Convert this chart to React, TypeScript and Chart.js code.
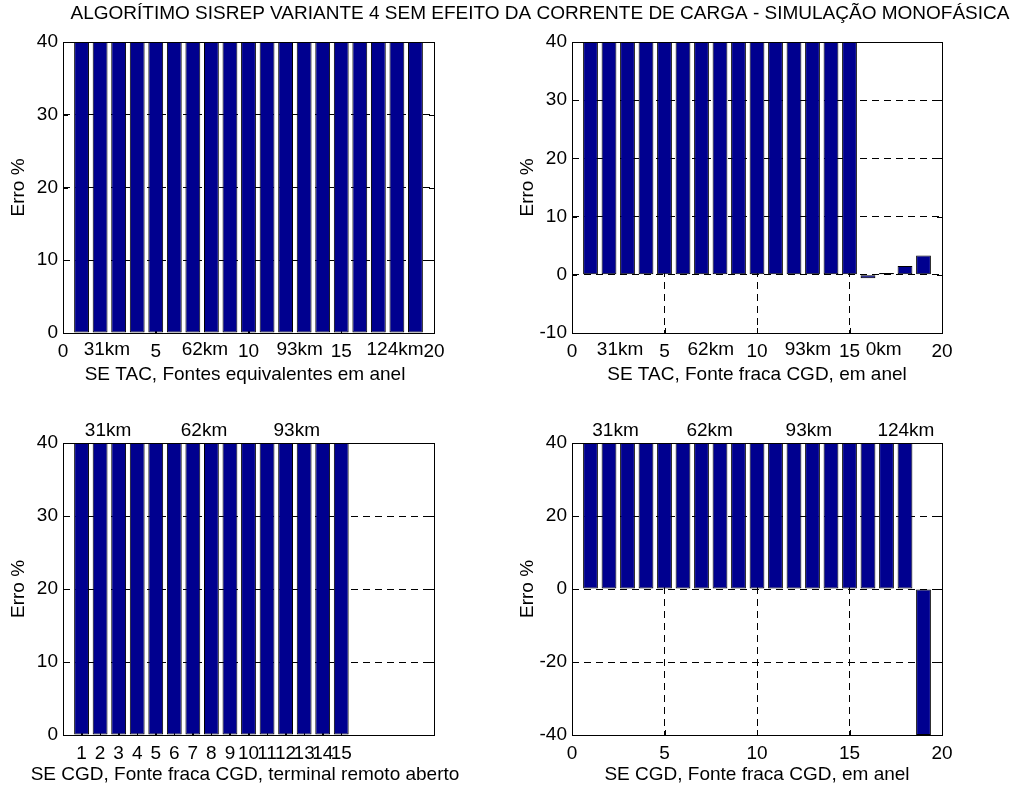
import React, { useEffect, useRef } from 'react';
import { Chart, registerables } from 'chart.js';

Chart.register(...registerables);

const FONT = '"Liberation Sans", Arial, Helvetica, sans-serif';
const FONT_SIZE = 19;
const BAR_FILL = 'rgb(0,0,143)';
const GRID_DASH = [7, 5];

const MAIN_TITLE = 'ALGORÍTIMO SISREP VARIANTE 4 SEM EFEITO DA CORRENTE DE CARGA - SIMULAÇÃO MONOFÁSICA';
const Y_LABEL = 'Erro %';

// Panel 1 (top-left)
const TL_X = [1, 2, 3, 4, 5, 6, 7, 8, 9, 10, 11, 12, 13, 14, 15, 16, 17, 18, 19];
const TL_ERRO = [40, 40, 40, 40, 40, 40, 40, 40, 40, 40, 40, 40, 40, 40, 40, 40, 40, 40, 40];
const TL_XTICKS = [0, 5, 10, 15, 20];
const TL_YTICKS = [0, 10, 20, 30, 40];
const TL_KM_X = [2.37, 7.65, 12.76, 17.9];
const TL_KM_LABELS = ['31km', '62km', '93km', '124km'];
const TL_TITLE = 'SE TAC, Fontes equivalentes em anel';

// Panel 2 (top-right)
const TR_X = [1, 2, 3, 4, 5, 6, 7, 8, 9, 10, 11, 12, 13, 14, 15, 16, 17, 18, 19];
const TR_ERRO = [40, 40, 40, 40, 40, 40, 40, 40, 40, 40, 40, 40, 40, 40, 40, -0.6, 0.3, 1.5, 3.3];
const TR_XTICKS = [0, 5, 10, 15, 20];
const TR_YTICKS = [-10, 0, 10, 20, 30, 40];
const TR_KM_X = [2.6, 7.5, 12.75, 16.85];
const TR_KM_LABELS = ['31km', '62km', '93km', '0km'];
const TR_TITLE = 'SE TAC, Fonte fraca CGD, em anel';

// Panel 3 (bottom-left)
const BL_X = [1, 2, 3, 4, 5, 6, 7, 8, 9, 10, 11, 12, 13, 14, 15];
const BL_ERRO = [40, 40, 40, 40, 40, 40, 40, 40, 40, 40, 40, 40, 40, 40, 40];
const BL_XTICKS = [1, 2, 3, 4, 5, 6, 7, 8, 9, 10, 11, 12, 13, 14, 15];
const BL_YTICKS = [0, 10, 20, 30, 40];
const BL_KM_X = [2.43, 7.6, 12.6];
const BL_KM_LABELS = ['31km', '62km', '93km'];
const BL_TITLE = 'SE CGD, Fonte fraca CGD, terminal remoto aberto';

// Panel 4 (bottom-right)
const BR_X = [1, 2, 3, 4, 5, 6, 7, 8, 9, 10, 11, 12, 13, 14, 15, 16, 17, 18, 19];
const BR_ERRO = [40, 40, 40, 40, 40, 40, 40, 40, 40, 40, 40, 40, 40, 40, 40, 40, 40, 40, -40];
const BR_XTICKS = [0, 5, 10, 15, 20];
const BR_YTICKS = [-40, -20, 0, 20, 40];
const BR_KM_X = [2.35, 7.44, 12.8, 18.05];
const BR_KM_LABELS = ['31km', '62km', '93km', '124km'];
const BR_TITLE = 'SE CGD, Fonte fraca CGD, em anel';

const W = 1018;
const H = 787;
const Y_AXIS_W = 63;
const TICK_LEN = 5;

type Area = { left: number; top: number; right: number; bottom: number };
type Panel = {
  xs: number[];
  values: number[];
  xTicks: number[];
  yTicks: number[];
  kmX: number[];
  kmLabels: string[];
  kmBelow: boolean;
  xTitle: string;
  area: Area;
  boxBottom: number;
  titleX: number;
  titleCenter: number;
  suptitle: boolean;
};

const PANELS: Panel[] = [
  { xs: TL_X, values: TL_ERRO, xTicks: TL_XTICKS, yTicks: TL_YTICKS, kmX: TL_KM_X, kmLabels: TL_KM_LABELS, kmBelow: true, xTitle: TL_TITLE,
    area: { left: 63, top: 42, right: 434, bottom: 333 }, boxBottom: 393, titleX: 245, titleCenter: 375, suptitle: true },
  { xs: TR_X, values: TR_ERRO, xTicks: TR_XTICKS, yTicks: TR_YTICKS, kmX: TR_KM_X, kmLabels: TR_KM_LABELS, kmBelow: true, xTitle: TR_TITLE,
    area: { left: 572, top: 42, right: 942, bottom: 333 }, boxBottom: 393, titleX: 757, titleCenter: 375, suptitle: false },
  { xs: BL_X, values: BL_ERRO, xTicks: BL_XTICKS, yTicks: BL_YTICKS, kmX: BL_KM_X, kmLabels: BL_KM_LABELS, kmBelow: false, xTitle: BL_TITLE,
    area: { left: 63, top: 443, right: 434, bottom: 735 }, boxBottom: 787, titleX: 245, titleCenter: 775, suptitle: false },
  { xs: BR_X, values: BR_ERRO, xTicks: BR_XTICKS, yTicks: BR_YTICKS, kmX: BR_KM_X, kmLabels: BR_KM_LABELS, kmBelow: false, xTitle: BR_TITLE,
    area: { left: 572, top: 443, right: 942, bottom: 735 }, boxBottom: 787, titleX: 757, titleCenter: 775, suptitle: false },
];

const framePlugin = {
  id: 'matlabFrame',
  beforeDatasetsDraw(chart: any) {
    const { ctx, chartArea: a, scales } = chart;
    const xs = scales.x;
    const ys = scales.y;
    ctx.save();
    ctx.strokeStyle = '#000';
    ctx.lineWidth = 1;
    ctx.beginPath();
    ys.ticks.forEach((t: any) => {
      const py = Math.round(ys.getPixelForValue(t.value)) + 0.5;
      ctx.moveTo(a.left, py);
      ctx.lineTo(a.left + TICK_LEN, py);
      ctx.moveTo(a.right - TICK_LEN, py);
      ctx.lineTo(a.right, py);
    });
    xs.ticks.forEach((t: any) => {
      const px = Math.round(xs.getPixelForValue(t.value)) + 0.5;
      ctx.moveTo(px, a.bottom);
      ctx.lineTo(px, a.bottom - TICK_LEN);
      ctx.moveTo(px, a.top);
      ctx.lineTo(px, a.top + TICK_LEN);
    });
    ctx.stroke();
    ctx.restore();
  },
  afterDatasetsDraw(chart: any) {
    const { ctx, chartArea: a } = chart;
    ctx.save();
    ctx.strokeStyle = '#000';
    ctx.lineWidth = 1;
    const l = Math.round(a.left) + 0.5;
    const t = Math.round(a.top) + 0.5;
    const r = Math.round(a.right) + 0.5;
    const b = Math.round(a.bottom) + 0.5;
    ctx.strokeRect(l, t, r - l, b - t);
    ctx.restore();
  },
};

function makeTextPlugin(p: Panel) {
  return {
    id: 'panelTexts',
    afterDraw(chart: any) {
      const { ctx, chartArea: a, scales } = chart;
      ctx.save();
      ctx.font = `${FONT_SIZE}px ${FONT}`;
      ctx.fillStyle = '#000';
      ctx.textAlign = 'center';
      ctx.textBaseline = 'middle';
      p.kmX.forEach((v, i) => {
        const px = scales.x.getPixelForValue(v);
        const py = p.kmBelow ? a.bottom + 16.5 : a.top - 12;
        ctx.fillText(p.kmLabels[i], px, py);
      });
      ctx.fillText(p.xTitle, p.titleX, p.titleCenter);
      if (p.suptitle) {
        ctx.fillText(MAIN_TITLE, 540, 14);
      }
      ctx.restore();
    },
  };
}

function makeChart(canvas: HTMLCanvasElement, p: Panel) {
  const font = { family: FONT, size: FONT_SIZE };
  const lh = FONT_SIZE * 1.2;
  return new Chart(canvas, {
    type: 'bar',
    data: {
      datasets: [
        {
          data: p.xs.map((x, i) => ({ x, y: p.values[i] })),
          backgroundColor: BAR_FILL,
          borderColor: '#000',
          borderWidth: 1,
          borderSkipped: false,
          barPercentage: 0.8,
          categoryPercentage: 1,
        } as any,
      ],
    },
    options: {
      responsive: false,
      animation: false,
      events: [],
      layout: {
        autoPadding: false,
        padding: {
          left: p.area.left - Y_AXIS_W,
          top: p.area.top,
          right: W - p.area.right,
          bottom: H - p.boxBottom,
        },
      },
      plugins: {
        legend: { display: false },
        tooltip: { enabled: false },
        title: { display: false },
      },
      scales: {
        x: {
          type: 'linear',
          min: 0,
          max: 20,
          offset: false,
          grid: { color: '#000', lineWidth: 1, drawTicks: false, offset: false },
          border: { display: false, dash: GRID_DASH },
          afterBuildTicks: (s: any) => {
            s.ticks = p.xTicks.map((v) => ({ value: v }));
          },
          afterFit: (s: any) => {
            s.height = p.boxBottom - p.area.bottom;
          },
          ticks: {
            autoSkip: false,
            maxRotation: 0,
            minRotation: 0,
            padding: 7,
            color: '#000',
            font,
            callback: (v: any) => String(v),
          },
          title: { display: false },
        },
        y: {
          type: 'linear',
          min: p.yTicks[0],
          max: p.yTicks[p.yTicks.length - 1],
          grid: { color: '#000', lineWidth: 1, drawTicks: false },
          border: { display: false, dash: GRID_DASH },
          afterBuildTicks: (s: any) => {
            s.ticks = p.yTicks.map((v) => ({ value: v }));
          },
          afterFit: (s: any) => {
            s.width = Y_AXIS_W;
          },
          ticks: {
            padding: 5,
            color: '#000',
            font,
            callback: (v: any) => String(v),
          },
          title: {
            display: true,
            text: Y_LABEL,
            color: '#000',
            font,
            padding: { top: 19 - lh / 2, bottom: 0 },
          },
        },
      },
    } as any,
    plugins: [framePlugin, makeTextPlugin(p)],
  });
}

export default function App() {
  const refs = [
    useRef<HTMLCanvasElement>(null),
    useRef<HTMLCanvasElement>(null),
    useRef<HTMLCanvasElement>(null),
    useRef<HTMLCanvasElement>(null),
  ];
  useEffect(() => {
    const charts = PANELS.map((p, i) => makeChart(refs[i].current as HTMLCanvasElement, p));
    return () => charts.forEach((c) => c.destroy());
  }, []);
  return (
    <div style={{ position: 'absolute', left: 0, top: 0, width: W, height: H, background: '#fff' }}>
      {refs.map((r, i) => (
        <canvas
          key={i}
          ref={r}
          width={W}
          height={H}
          style={{ position: 'absolute', left: 0, top: 0, width: W, height: H }}
        />
      ))}
    </div>
  );
}
